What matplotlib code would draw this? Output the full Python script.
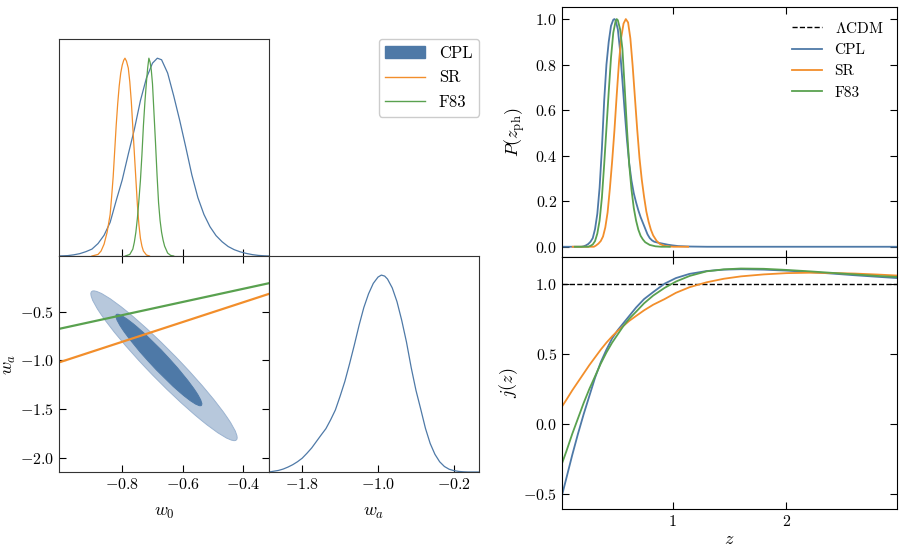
import numpy as np
import matplotlib
matplotlib.use("Agg")
import matplotlib.pyplot as plt
from matplotlib.patches import Ellipse, Patch
from matplotlib.lines import Line2D

plt.rcParams['font.family'] = 'serif'
plt.rcParams['font.serif'] = ['cmr10']
plt.rcParams['mathtext.fontset'] = 'cm'
plt.rcParams['axes.formatter.use_mathtext'] = True
plt.rcParams['axes.unicode_minus'] = True

c_blue = '#4e79a7'
c_orange = '#f28e2b'
c_green = '#59a14f'

# ---- 1D marginal of w0 ----
w0_cpl = [-1.01, -0.98, -0.96, -0.94, -0.92, -0.90, -0.88, -0.86, -0.84, -0.82,
          -0.80, -0.78, -0.76, -0.74, -0.72, -0.70, -0.684, -0.67, -0.65, -0.63,
          -0.61, -0.59, -0.57, -0.55, -0.53, -0.51, -0.49, -0.47, -0.45, -0.43,
          -0.41, -0.39, -0.37, -0.35, -0.33, -0.315]
p_cpl = [0.0, 0.002, 0.006, 0.012, 0.022, 0.035, 0.063, 0.105, 0.170, 0.280,
         0.385, 0.515, 0.640, 0.785, 0.900, 0.975, 1.0, 0.992, 0.925, 0.810,
         0.685, 0.550, 0.410, 0.295, 0.210, 0.148, 0.103, 0.072, 0.048, 0.032,
         0.021, 0.013, 0.007, 0.003, 0.001, 0.0]

w0_sr = [-0.90, -0.88, -0.87, -0.86, -0.85, -0.84, -0.835, -0.83, -0.825, -0.82,
         -0.815, -0.81, -0.805, -0.80, -0.795, -0.791, -0.786, -0.78, -0.775, -0.77,
         -0.765, -0.76, -0.755, -0.75, -0.745, -0.74, -0.735, -0.73, -0.72, -0.71]
p_sr = [0.0, 0.008, 0.025, 0.06, 0.12, 0.21, 0.30, 0.40, 0.53, 0.66,
        0.77, 0.86, 0.925, 0.965, 0.99, 1.0, 0.985, 0.95, 0.88, 0.78,
        0.65, 0.52, 0.39, 0.26, 0.16, 0.09, 0.05, 0.025, 0.005, 0.0]

w0_f83 = [-0.79, -0.775, -0.765, -0.76, -0.755, -0.75, -0.745, -0.74, -0.735, -0.73,
          -0.725, -0.72, -0.716, -0.712, -0.708, -0.704, -0.70, -0.695, -0.69, -0.685,
          -0.68, -0.675, -0.67, -0.665, -0.66, -0.65, -0.64, -0.63]
p_f83 = [0.0, 0.008, 0.035, 0.07, 0.12, 0.19, 0.28, 0.38, 0.51, 0.66,
         0.78, 0.88, 0.95, 1.0, 0.98, 0.94, 0.87, 0.72, 0.57, 0.41,
         0.27, 0.18, 0.12, 0.08, 0.05, 0.015, 0.003, 0.0]

# ---- 1D marginal of wa (CPL) ----
wa_grid = [-2.15, -2.05, -2.0, -1.95, -1.9, -1.85, -1.8, -1.75, -1.7, -1.65,
           -1.6, -1.55, -1.5, -1.45, -1.4, -1.35, -1.3, -1.25, -1.2, -1.15,
           -1.1, -1.05, -1.0, -0.965, -0.93, -0.9, -0.85, -0.8, -0.75, -0.7,
           -0.65, -0.6, -0.55, -0.5, -0.45, -0.4, -0.35, -0.3, -0.25, -0.2,
           -0.15, -0.1, -0.05, 0.07]
p_wa = [0.0, 0.008, 0.015, 0.025, 0.037, 0.052, 0.070, 0.095, 0.122, 0.155,
        0.188, 0.220, 0.265, 0.315, 0.385, 0.460, 0.550, 0.645, 0.745, 0.835,
        0.905, 0.958, 0.990, 1.0, 0.995, 0.980, 0.935, 0.865, 0.770, 0.660,
        0.530, 0.415, 0.320, 0.222, 0.145, 0.090, 0.052, 0.028, 0.014, 0.007,
        0.003, 0.001, 0.0, 0.0]

# ---- 2D contours (CPL): centre, full major, full minor, angle ----
ell_center = [(-0.662, -1.054), (-0.679, -0.995)]
ell_major = [1.60, 0.975]
ell_minor = [0.128, 0.074]
ell_angle = [-73.0, -73.6]

# ---- SR / F83 lines in (w0, wa) ----
line_w0 = [-1.009, -0.315]
line_wa_sr = [-1.02, -0.319]
line_wa_f83 = [-0.677, -0.21]

# ---- P(z_ph) ----
z_cpl = [0.03, 0.20, 0.22, 0.24, 0.26, 0.28, 0.30, 0.32, 0.34, 0.36,
         0.38, 0.40, 0.42, 0.44, 0.46, 0.48, 0.49, 0.50, 0.52, 0.54,
         0.56, 0.58, 0.60, 0.62, 0.64, 0.66, 0.68, 0.70, 0.72, 0.74,
         0.76, 0.78, 0.80, 0.82, 0.84, 0.88, 0.92, 0.96, 1.00, 1.05,
         1.15, 1.30, 2.97]
pz_cpl = [0.0, 0.0, 0.002, 0.006, 0.012, 0.022, 0.038, 0.078, 0.145, 0.26,
          0.43, 0.64, 0.80, 0.90, 0.97, 0.997, 1.0, 0.995, 0.955, 0.86,
          0.73, 0.595, 0.47, 0.365, 0.29, 0.235, 0.195, 0.16, 0.13, 0.105,
          0.08, 0.055, 0.038, 0.028, 0.022, 0.017, 0.013, 0.009, 0.006, 0.003,
          0.001, 0.0, 0.0]

z_sr = [0.124, 0.31, 0.33, 0.35, 0.37, 0.39, 0.41, 0.43, 0.45, 0.47,
        0.49, 0.51, 0.53, 0.55, 0.57, 0.59, 0.61, 0.63, 0.65, 0.67,
        0.69, 0.71, 0.73, 0.75, 0.77, 0.79, 0.81, 0.83, 0.86, 0.89,
        0.93, 0.98, 1.01, 1.137]
pz_sr = [0.0, 0.0, 0.006, 0.014, 0.025, 0.045, 0.085, 0.15, 0.255, 0.375,
         0.51, 0.665, 0.81, 0.92, 0.98, 1.0, 0.985, 0.915, 0.795, 0.655,
         0.515, 0.39, 0.295, 0.22, 0.155, 0.11, 0.075, 0.05, 0.026, 0.012,
         0.004, 0.001, 0.0, 0.0]

z_f83 = [0.143, 0.26, 0.28, 0.30, 0.32, 0.34, 0.36, 0.38, 0.40, 0.42,
         0.44, 0.46, 0.48, 0.50, 0.51, 0.52, 0.54, 0.56, 0.58, 0.60,
         0.62, 0.64, 0.66, 0.68, 0.70, 0.72, 0.74, 0.76, 0.80, 0.85,
         0.90, 0.976]
pz_f83 = [0.0, 0.0, 0.004, 0.010, 0.025, 0.058, 0.115, 0.215, 0.36, 0.52,
          0.68, 0.83, 0.94, 0.99, 1.0, 0.995, 0.955, 0.87, 0.70, 0.52,
          0.36, 0.25, 0.17, 0.115, 0.075, 0.048, 0.032, 0.020, 0.008, 0.002,
          0.0, 0.0]

# ---- jerk j(z) ----
zj = [0.026, 0.07, 0.12, 0.17, 0.22, 0.27, 0.32, 0.37, 0.42, 0.47,
      0.52, 0.57, 0.62, 0.68, 0.75, 0.83, 0.93, 1.03, 1.15, 1.30,
      1.45, 1.60, 1.80, 2.00, 2.20, 2.40, 2.60, 2.80, 2.97]
j_cpl = [-0.52, -0.38, -0.22, -0.07, 0.07, 0.20, 0.33, 0.44, 0.53, 0.61,
         0.67, 0.72, 0.77, 0.83, 0.89, 0.94, 1.0, 1.04, 1.07, 1.09,
         1.10, 1.103, 1.10, 1.093, 1.083, 1.072, 1.060, 1.049, 1.040]
j_f83 = [-0.29, -0.19, -0.07, 0.04, 0.15, 0.25, 0.34, 0.43, 0.51, 0.58,
         0.64, 0.70, 0.75, 0.80, 0.86, 0.915, 0.97, 1.015, 1.055, 1.088,
         1.102, 1.108, 1.106, 1.098, 1.088, 1.077, 1.066, 1.055, 1.048]
j_sr = [0.12, 0.175, 0.24, 0.30, 0.36, 0.42, 0.475, 0.53, 0.58, 0.625,
        0.665, 0.70, 0.735, 0.77, 0.81, 0.85, 0.89, 0.935, 0.975, 1.01,
        1.035, 1.052, 1.066, 1.075, 1.078, 1.076, 1.072, 1.065, 1.058]
j_lcdm = 1.0

W, H = 905, 551
fig = plt.figure(figsize=(W / 100, H / 100), dpi=100)


def frac(x0, y0, x1, y1):
    return [x0 / W, 1 - y1 / H, (x1 - x0) / W, (y1 - y0) / H]


w0_lim = (-1.009, -0.315)
wa_lim = (-2.14, 0.068)

ax_w0 = fig.add_axes(frac(59, 39, 269, 256))
ax_2d = fig.add_axes(frac(59, 256, 269, 472))
ax_wa = fig.add_axes(frac(269, 256, 479, 472))
ax_pz = fig.add_axes(frac(562, 7, 897, 257))
ax_j = fig.add_axes(frac(562, 257, 897, 509))

fs_tick = 11.5
fs_lab = 13

# w0 marginal
ax_w0.plot(w0_cpl, p_cpl, color=c_blue, lw=0.9)
ax_w0.plot(w0_sr, p_sr, color=c_orange, lw=0.9)
ax_w0.plot(w0_f83, p_f83, color=c_green, lw=0.9)
ax_w0.set_xlim(w0_lim)
ax_w0.set_ylim(0, 1.097)
ax_w0.set_xticks([-0.8, -0.6, -0.4])
ax_w0.set_yticks([])
ax_w0.tick_params(axis='x', direction='in', labelbottom=False, length=5)

# 2D
for c, mj, mn, an, fc, ec in zip(ell_center, ell_major, ell_minor, ell_angle,
                                 ['#b7c8dc', c_blue], ['#9bb3d0', c_blue]):
    ax_2d.add_patch(Ellipse(c, mj, mn, angle=an, facecolor=fc, edgecolor=ec, lw=0.7))
ax_2d.plot(line_w0, line_wa_f83, color=c_green, lw=1.6)
ax_2d.plot(line_w0, line_wa_sr, color=c_orange, lw=1.6)
ax_2d.set_xlim(w0_lim)
ax_2d.set_ylim(wa_lim)
ax_2d.set_xticks([-0.8, -0.6, -0.4])
ax_2d.set_yticks([-2.0, -1.5, -1.0, -0.5])
ax_2d.tick_params(direction='in', top=True, right=True, length=5, labelsize=fs_tick)
ax_2d.set_xlabel(r'$w_0$', fontsize=fs_lab, labelpad=10)
ax_2d.set_ylabel(r'$w_a$', fontsize=fs_lab)
ax_2d.yaxis.set_label_coords(-0.195, 0.5)

# wa marginal
ax_wa.plot(wa_grid, p_wa, color=c_blue, lw=0.9)
ax_wa.set_xlim(-2.15, 0.065)
ax_wa.set_ylim(0, 1.097)
ax_wa.set_xticks([-1.8, -1.0, -0.2])
ax_wa.set_yticks([])
ax_wa.tick_params(axis='x', direction='in', length=5, labelsize=fs_tick)
ax_wa.set_xlabel(r'$w_a$', fontsize=fs_lab, labelpad=10)

for a in (ax_w0, ax_2d, ax_wa):
    for s in a.spines.values():
        s.set_color('#333333')

fig.legend(handles=[Patch(facecolor=c_blue, edgecolor=c_blue, label='CPL'),
                    Line2D([], [], color=c_orange, lw=1, label='SR'),
                    Line2D([], [], color=c_green, lw=1, label='F83')],
           loc='upper right', bbox_to_anchor=(479 / W, 1 - 39 / H), borderaxespad=0,
           fontsize=12, handlelength=2.4, labelspacing=0.55, framealpha=1,
           edgecolor='#cccccc')

# P(z_ph)
ax_pz.plot([], [], color='k', ls='--', lw=1, label=r'$\Lambda$CDM')
ax_pz.plot(z_cpl, pz_cpl, color=c_blue, lw=1.3, label='CPL')
ax_pz.plot(z_sr, pz_sr, color=c_orange, lw=1.3, label='SR')
ax_pz.plot(z_f83, pz_f83, color=c_green, lw=1.3, label='F83')
ax_pz.set_xlim(0.03, 2.97)
ax_pz.set_ylim(-0.045, 1.053)
ax_pz.set_xticks([1, 2])
ax_pz.set_yticks([0.0, 0.2, 0.4, 0.6, 0.8, 1.0])
ax_pz.tick_params(direction='in', top=True, right=True, length=5, labelbottom=False,
                  labelsize=fs_tick)
ax_pz.set_ylabel(r'$P(z_{\rm ph})$', fontsize=fs_lab, labelpad=6)
ax_pz.legend(loc='upper right', frameon=False, fontsize=11, handlelength=2.0)

# j(z)
ax_j.axhline(j_lcdm, color='k', ls='--', lw=1)
ax_j.plot(zj, j_cpl, color=c_blue, lw=1.3)
ax_j.plot(zj, j_sr, color=c_orange, lw=1.3)
ax_j.plot(zj, j_f83, color=c_green, lw=1.3)
ax_j.set_xlim(0.03, 2.97)
ax_j.set_ylim(-0.605, 1.19)
ax_j.set_xticks([1, 2])
ax_j.set_yticks([-0.5, 0.0, 0.5, 1.0])
ax_j.tick_params(direction='in', top=True, right=True, length=5, labelsize=fs_tick)
ax_j.set_xlabel(r'$z$', fontsize=fs_lab, labelpad=2)
ax_j.set_ylabel(r'$j(z)$', fontsize=fs_lab, labelpad=2)

fig.savefig('out.png', dpi=100)
